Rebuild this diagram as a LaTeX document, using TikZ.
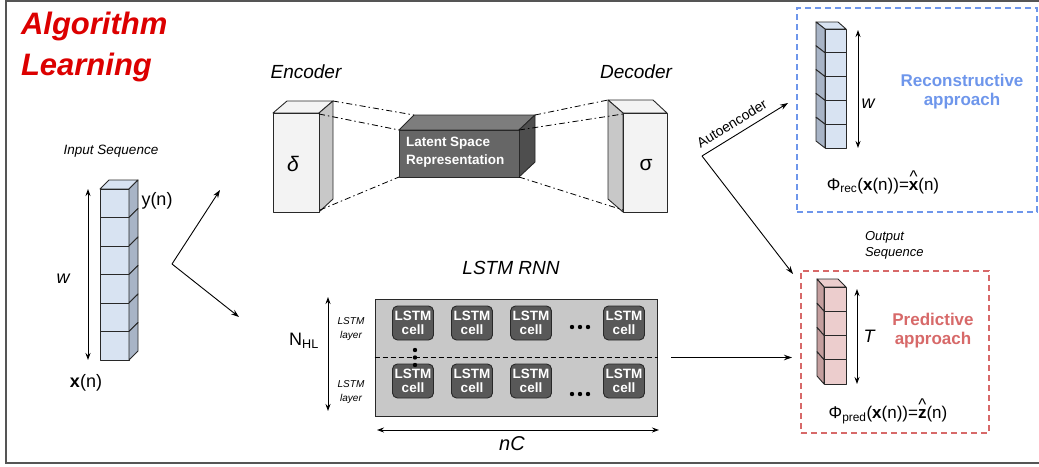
\documentclass[tikz,border=0pt]{standalone}
\usepackage{fontspec}
\setmainfont{Liberation Sans}
\usetikzlibrary{arrows.meta}

\definecolor{titlered}{RGB}{220,0,0}
\definecolor{framegray}{RGB}{85,85,85}
\definecolor{bluefront}{RGB}{216,227,242}
\definecolor{blueside}{RGB}{168,180,198}
\definecolor{redfront}{RGB}{236,205,205}
\definecolor{redside}{RGB}{196,158,158}
\definecolor{boxlight}{RGB}{243,243,243}
\definecolor{boxside}{RGB}{200,200,200}
\definecolor{latfront}{RGB}{102,102,102}
\definecolor{lattop}{RGB}{125,125,125}
\definecolor{latside}{RGB}{78,78,78}
\definecolor{rnnfill}{RGB}{200,200,200}
\definecolor{cellfill}{RGB}{88,88,88}
\definecolor{recblue}{RGB}{110,150,235}
\definecolor{predred}{RGB}{215,105,105}
\definecolor{edge}{RGB}{40,40,40}

% bold x with a caret set above it
\newcommand{\hatbf}[1]{\leavevmode\ooalign{\textbf{#1}\cr\hidewidth\raisebox{0.45em}{\textasciicircum}\hidewidth\cr}}

\tikzset{
  txt/.style={inner sep=0pt, outer sep=0pt},
  cube/.style={draw=edge, line width=0.9pt, line join=round},
  dashdot/.style={line width=0.8pt, dash pattern=on 6pt off 3pt on 1.5pt off 3pt},
  arr/.style={line width=0.9pt, -{Stealth[length=8pt,width=5.5pt]}},
  dblarr/.style={line width=0.9pt, {Stealth[length=7pt,width=5pt]}-{Stealth[length=7pt,width=5pt]}},
  cellbox/.style={draw=edge, line width=0.9pt, fill=cellfill, rounded corners=5pt,
    minimum width=41pt, minimum height=34pt, inner sep=0pt, text=white,
    font=\fontsize{13.5}{14.5}\selectfont\bfseries, align=center},
  dotmark/.style={fill=black, draw=none}
}

\begin{document}
\begin{tikzpicture}[x=1pt,y=-1pt]
\useasboundingbox (0,0) rectangle (1039,466);

% outer frame
\draw[framegray, line width=2pt] (1040,1) -- (6,1) -- (6,463) -- (1040,463);

% title
\node[txt, anchor=base west, text=titlered, font=\fontsize{31}{32}\selectfont\bfseries\itshape] (t1) at (21,34) {Algorithm};
\node[txt, anchor=base west, text=titlered, font=\fontsize{31}{32}\selectfont\bfseries\itshape] (t2) at (21,75) {Learning};

% ---------------- input sequence ----------------
\node[txt, font=\fontsize{13.5}{15}\selectfont\itshape] (inlab) at (111,151) {Input Sequence};
\draw[cube, fill=bluefront] (100,189) -- (109,180) -- (138,180) -- (129,189) -- cycle;
\foreach \i in {0,...,5} {
  \pgfmathsetmacro\ya{189+\i*28.5}
  \pgfmathsetmacro\yb{189+(\i+1)*28.5}
  \draw[cube, fill=bluefront] (100,\ya) rectangle (129,\yb);
  \draw[cube, fill=blueside] (129,\ya) -- (138,\ya-9) -- (138,\yb-9) -- (129,\yb) -- cycle;
}
\coordinate (wtop) at (88,189);
\coordinate (wbot) at (88,360);
\draw[dblarr] (wtop) -- (wbot);
\node[txt, font=\fontsize{18}{20}\selectfont\itshape] (wlab) at (63,279) {w};
\node[txt, font=\fontsize{18}{20}\selectfont] (ylab) at (157,201) {y(n)};
\node[txt, font=\fontsize{18}{20}\selectfont] (xlab) at (86,383) {\textbf{x}(n)};

% split arrows towards the two models
\coordinate (split) at (172,264);
\coordinate (toae) at (220,190);
\coordinate (tornn) at (239,317);
\draw[arr] (split) -- (toae);
\draw[arr] (split) -- (tornn);

% ---------------- autoencoder ----------------
\node[txt, font=\fontsize{19}{20}\selectfont\itshape] (enclab) at (306,72) {Encoder};
\node[txt, font=\fontsize{19}{20}\selectfont\itshape] (declab) at (636,72) {Decoder};

% encoder block
\draw[cube, fill=boxlight] (273,113) -- (287,101) -- (333,101) -- (319,113) -- cycle;
\draw[cube, fill=boxside] (319,113) -- (333,101) -- (333,199) -- (319,212) -- cycle;
\draw[cube, fill=boxlight] (273,113) rectangle (319,212);
\node[txt, font=\fontsize{21}{22}\selectfont\itshape] (delta) at (293,164) {δ};

% latent block
\draw[cube, fill=lattop] (399,130) -- (414,115) -- (535,115) -- (519,130) -- cycle;
\draw[cube, fill=latside] (519,130) -- (535,115) -- (535,162) -- (519,177) -- cycle;
\draw[cube, fill=latfront] (399,130) rectangle (519,177);
\node[txt, anchor=west, align=left, text=white, font=\fontsize{13.5}{18}\selectfont\bfseries] (latent) at (406,152) {Latent Space\\Representation};

% decoder block
\draw[cube, fill=boxlight] (608,100) -- (653,100) -- (667,113) -- (623,113) -- cycle;
\draw[cube, fill=boxside] (608,100) -- (623,113) -- (623,212) -- (608,199) -- cycle;
\draw[cube, fill=boxlight] (623,113) rectangle (667,212);
\node[txt, font=\fontsize{21}{22}\selectfont] (sigma) at (646,165) {σ};

% projection lines between the blocks
\draw[dashdot] (333,101) -- (414,115);
\draw[dashdot] (319,114) -- (399,130);
\draw[dashdot] (320,210) -- (399,177);
\draw[dashdot] (535,115) -- (608,100);
\draw[dashdot] (519,130) -- (623,114);
\draw[dashdot] (519,177) -- (623,210);

% ---------------- LSTM RNN ----------------
\node[txt, font=\fontsize{19}{20}\selectfont\itshape] (rnnlab) at (511,268) {LSTM RNN};
\node[draw=edge, line width=1pt, fill=rnnfill, minimum width=282pt, minimum height=117pt, inner sep=0pt] (rnn) at (516,357.5) {};
\draw[line width=0.9pt, dash pattern=on 5pt off 3pt] (rnn.west) -- (rnn.east);

\foreach \x/\n in {413/1, 472/2, 531/3, 624/4} {
  \node[cellbox] (ca\n) at (\x,323) {LSTM\\cell};
  \node[cellbox] (cb\n) at (\x,381) {LSTM\\cell};
}
\foreach \x in {572,580,588} {
  \fill[dotmark] (\x,327) circle (2.2pt);
  \fill[dotmark] (\x,394) circle (2.2pt);
}
\foreach \y in {350,357.5,365} {
  \fill[dotmark] (415,\y) circle (2.2pt);
}

\node[txt, align=center, font=\fontsize{10}{14}\selectfont\itshape] (lay1) at (351,329) {LSTM\\layer};
\node[txt, align=center, font=\fontsize{10}{14}\selectfont\itshape] (lay2) at (351,392) {LSTM\\layer};

\coordinate (nhltop) at (328,297);
\coordinate (nhlbot) at (328,411);
\draw[dblarr] (nhltop) -- (nhlbot);
\node[txt, font=\fontsize{18}{20}\selectfont] (nhl) at (304,341) {N\textsubscript{HL}};

\coordinate (ncl) at (377,430);
\coordinate (ncr) at (659,430);
\draw[dblarr] (ncl) -- (ncr);
\node[txt, font=\fontsize{20}{22}\selectfont\itshape] (nc) at (512,444) {nC};

% RNN output arrow
\coordinate (rnnout) at (671,357.5);
\coordinate (predin) at (792,357.5);
\draw[arr] (rnnout) -- (predin);

% ---------------- output branches ----------------
\coordinate (aesplit) at (702,156);
\coordinate (torec) at (788,103);
\coordinate (topred) at (793,274);
\draw[arr] (aesplit) -- node[txt, sloped, above=7pt, pos=0.42, font=\fontsize{14}{15}\selectfont] (aelab) {Autoencoder} (torec);
\draw[arr] (aesplit) -- (topred);

% reconstructive approach
\node[draw=recblue, line width=1.2pt, dash pattern=on 6pt off 4pt, minimum width=240pt, minimum height=204pt, inner sep=0pt] (recbox) at (917,110) {};
\draw[cube, fill=bluefront] (816,22) -- (838,22) -- (846,29) -- (825,29) -- cycle;
\foreach \i in {0,...,4} {
  \pgfmathsetmacro\ya{29+\i*23.8}
  \pgfmathsetmacro\yb{29+(\i+1)*23.8}
  \draw[cube, fill=blueside] (816,\ya-7) -- (825,\ya) -- (825,\yb) -- (816,\yb-7) -- cycle;
  \draw[cube, fill=bluefront] (825,\ya) rectangle (846,\yb);
}
\coordinate (rwtop) at (858,30);
\coordinate (rwbot) at (858,148);
\draw[dblarr] (rwtop) -- (rwbot);
\node[txt, font=\fontsize{18}{20}\selectfont\itshape] (rwlab) at (868,104) {w};
\node[txt, align=center, text=recblue, font=\fontsize{17}{19}\selectfont\bfseries] (reclab) at (962,92) {Reconstructive\\approach};
\node[txt, font=\fontsize{17}{19}\selectfont] (recform) at (883,186) {Φ\textsubscript{rec}(\textbf{x}(n))=\hatbf{x}(n)};

% predictive approach
\node[txt, anchor=base west, align=left, font=\fontsize{13}{16}\selectfont\itshape] (outlab) at (865,256) {Output\\Sequence};
\node[draw=predred, line width=1.2pt, dash pattern=on 6pt off 4pt, minimum width=188pt, minimum height=162pt, inner sep=0pt] (predbox) at (895,352) {};
\draw[cube, fill=redfront] (817,279) -- (838,279) -- (846,287) -- (824,287) -- cycle;
\foreach \i in {0,...,3} {
  \pgfmathsetmacro\ya{287+\i*24.25}
  \pgfmathsetmacro\yb{287+(\i+1)*24.25}
  \draw[cube, fill=redside] (817,\ya-8) -- (824,\ya) -- (824,\yb) -- (817,\yb-8) -- cycle;
  \draw[cube, fill=redfront] (824,\ya) rectangle (846,\yb);
}
\coordinate (ttop) at (857,289);
\coordinate (tbot) at (857,384);
\draw[dblarr] (ttop) -- (tbot);
\node[txt, font=\fontsize{18}{20}\selectfont\itshape] (tlab) at (869,336) {T};
\node[txt, align=center, text=predred, font=\fontsize{17}{19}\selectfont\bfseries] (predlab) at (933,331) {Predictive\\approach};
\node[txt, font=\fontsize{17}{19}\selectfont] (predform) at (888,415) {Φ\textsubscript{pred}(\textbf{x}(n))=\hatbf{z}(n)};

\end{tikzpicture}
\end{document}
